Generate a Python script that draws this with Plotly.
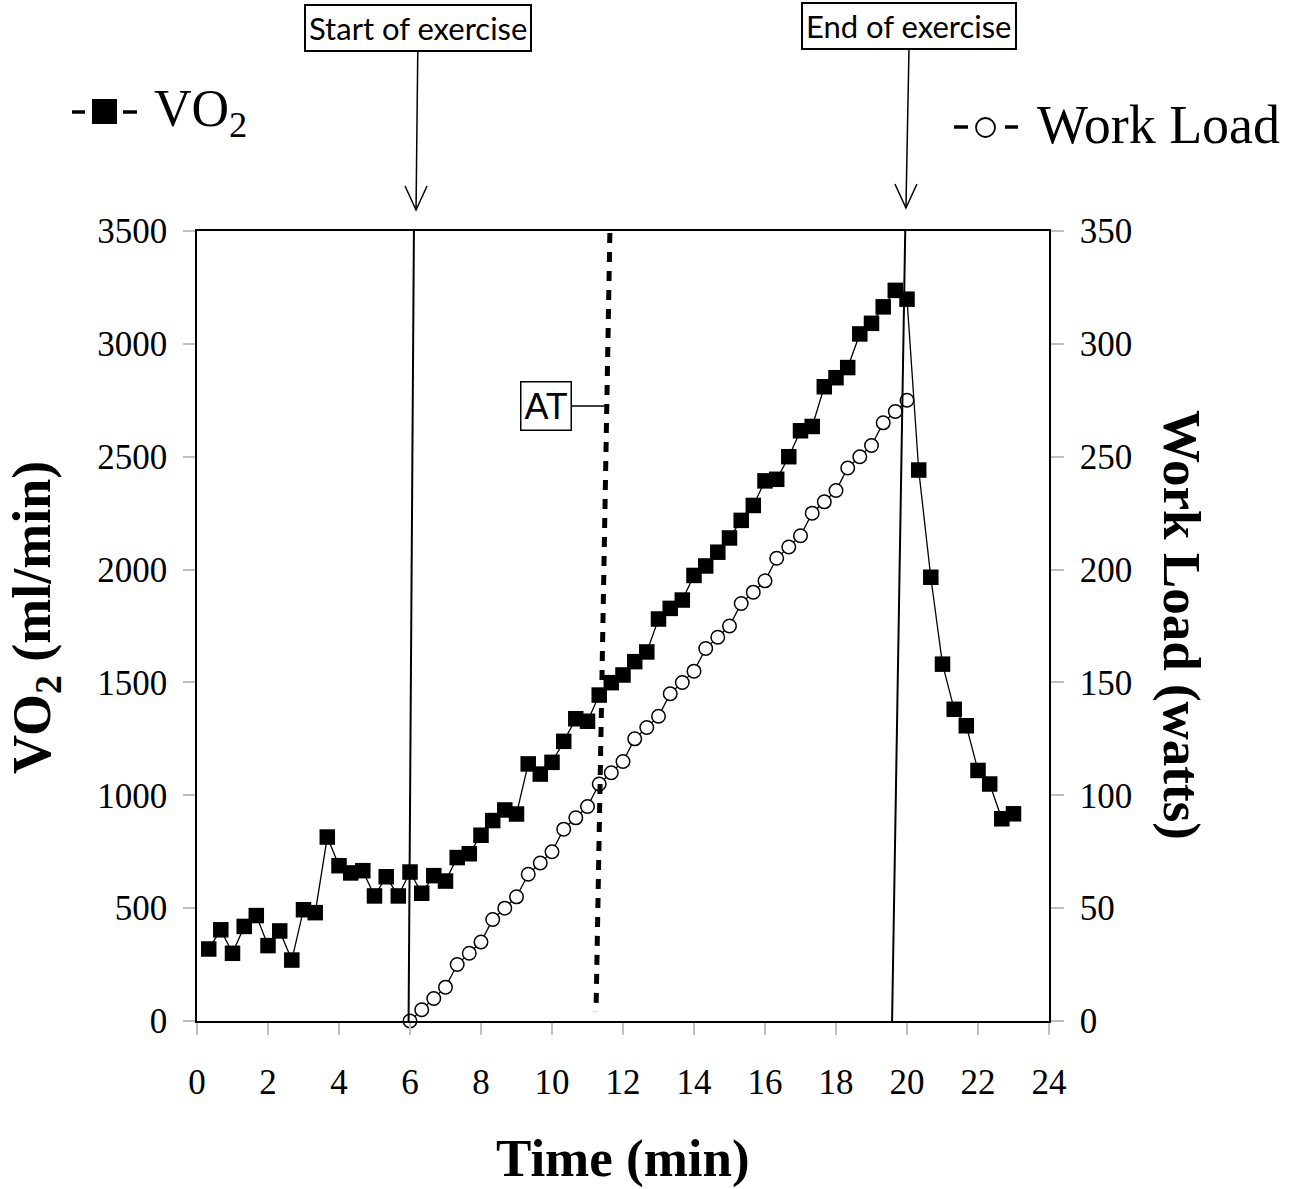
import plotly.graph_objects as go

# ---------------- data ----------------
time_min = [0.33, 0.67, 1.00, 1.33, 1.67, 2.00, 2.33, 2.67, 3.00, 3.33,
            3.67, 4.00, 4.33, 4.67, 5.00, 5.33, 5.67, 6.00, 6.33, 6.67,
            7.00, 7.33, 7.67, 8.00, 8.33, 8.67, 9.00, 9.33, 9.67, 10.00,
            10.33, 10.67, 11.00, 11.33, 11.67, 12.00, 12.33, 12.67, 13.00, 13.33,
            13.67, 14.00, 14.33, 14.67, 15.00, 15.33, 15.67, 16.00, 16.33, 16.67,
            17.00, 17.33, 17.67, 18.00, 18.33, 18.67, 19.00, 19.33, 19.67, 20.00,
            20.33, 20.67, 21.00, 21.33, 21.67, 22.00, 22.33, 22.67, 23.00]

vo2 = [319, 404, 300, 419, 467, 334, 399, 270, 493, 480,
       815, 688, 656, 666, 554, 639, 554, 660, 566, 644,
       620, 724, 741, 823, 888, 935, 917, 1139, 1094, 1146,
       1239, 1339, 1328, 1444, 1499, 1533, 1592, 1635, 1781, 1828,
       1865, 1974, 2016, 2077, 2140, 2218, 2284, 2393, 2400, 2500,
       2615, 2634, 2810, 2850, 2895, 3044, 3091, 3164, 3237, 3198,
       2441, 1966, 1581, 1381, 1308, 1110, 1050, 896, 918]

load_time = [6.00, 6.33, 6.67, 7.00, 7.33, 7.67, 8.00, 8.33, 8.67, 9.00,
             9.33, 9.67, 10.00, 10.33, 10.67, 11.00, 11.33, 11.67, 12.00, 12.33,
             12.67, 13.00, 13.33, 13.67, 14.00, 14.33, 14.67, 15.00, 15.33, 15.67,
             16.00, 16.33, 16.67, 17.00, 17.33, 17.67, 18.00, 18.33, 18.67, 19.00,
             19.33, 19.67, 20.00]

work_load = [0, 5, 10, 15, 25, 30, 35, 45, 50, 55,
             65, 70, 75, 85, 90, 95, 105, 110, 115, 125,
             130, 135, 145, 150, 155, 165, 170, 175, 185, 190,
             195, 205, 210, 215, 225, 230, 235, 245, 250, 255,
             265, 270, 275]

x_ticks = [0, 2, 4, 6, 8, 10, 12, 14, 16, 18, 20, 22, 24]
vo2_ticks = [0, 500, 1000, 1500, 2000, 2500, 3000, 3500]
load_ticks = [0, 50, 100, 150, 200, 250, 300, 350]

# event lines (time at top of plot, time at bottom of plot)
start_line = [6.11, 5.96]
end_line = [19.95, 19.58]
at_line = [11.63, 11.24]
at_line_y = [3491, 40]
start_arrow_time = 6.17
end_arrow_time = 19.97
at_label_time = 11.49
at_label_vo2 = 2725

# ---------------- layout geometry ----------------
W, H = 1306, 1189
L, R, T, B = 197, 1049, 231, 1021


def px(x):
    return (x - L) / (R - L)


def py(y):
    return (B - y) / (B - T)


def t_span(dx):
    return dx * 24 / (R - L)


serif = "Liberation Serif"
GREY = "#bfbfbf"

fig = go.Figure()

fig.add_trace(go.Scatter(
    x=time_min, y=vo2, mode="lines+markers", name="VO2",
    line=dict(color="black", width=1.3),
    marker=dict(symbol="square", size=15.5, color="black"),
    yaxis="y", showlegend=False, cliponaxis=False))

fig.add_trace(go.Scatter(
    x=load_time, y=work_load, mode="lines+markers", name="Work Load",
    line=dict(color="black", width=1.3),
    marker=dict(symbol="circle", size=13.5, color="white",
                line=dict(color="black", width=1.5)),
    yaxis="y2", showlegend=False, cliponaxis=False))

shapes = []
# event lines inside the plot
shapes.append(dict(type="line", xref="x", yref="y", x0=start_line[0], y0=3500,
                   x1=start_line[1], y1=0, line=dict(color="black", width=2)))
shapes.append(dict(type="line", xref="x", yref="y", x0=end_line[0], y0=3500,
                   x1=end_line[1], y1=0, line=dict(color="black", width=2)))
shapes.append(dict(type="line", xref="x", yref="y", x0=at_line[0], y0=at_line_y[0],
                   x1=at_line[1], y1=at_line_y[1],
                   line=dict(color="black", width=5, dash="10px,9px")))


# arrow heads (open V) above the plot
def vhead(tip_t, tip_py):
    dx = t_span(11)
    y_tip = py(tip_py)
    y_arm = py(tip_py - 24)
    return dict(type="path", xref="x", yref="paper",
                path=f"M {tip_t - dx},{y_arm} L {tip_t},{y_tip} L {tip_t + dx},{y_arm}",
                line=dict(color="black", width=1.5))


shapes.append(vhead(start_arrow_time, 210))
shapes.append(vhead(end_arrow_time, 208))

# legend symbols
shapes.append(dict(type="line", xref="paper", yref="paper", x0=px(72), x1=px(85),
                   y0=py(112), y1=py(112), line=dict(color="black", width=3.5)))
shapes.append(dict(type="rect", xref="paper", yref="paper", x0=px(92), x1=px(117),
                   y0=py(124), y1=py(99), fillcolor="black", line=dict(width=0)))
shapes.append(dict(type="line", xref="paper", yref="paper", x0=px(123), x1=px(137),
                   y0=py(112), y1=py(112), line=dict(color="black", width=3.5)))

shapes.append(dict(type="line", xref="paper", yref="paper", x0=px(954), x1=px(968),
                   y0=py(127), y1=py(127), line=dict(color="black", width=3.5)))
shapes.append(dict(type="circle", xref="paper", yref="paper", x0=px(976), x1=px(995),
                   y0=py(137), y1=py(118), line=dict(color="black", width=1.8)))
shapes.append(dict(type="line", xref="paper", yref="paper", x0=px(1005), x1=px(1018),
                   y0=py(127), y1=py(127), line=dict(color="black", width=3.5)))

annotations = []
# event boxes with arrows
annotations.append(dict(
    text="Start of exercise", x=start_arrow_time, y=py(210), xref="x", yref="paper",
    showarrow=True, arrowhead=0, arrowwidth=1.5, arrowcolor="black",
    ax=2, ay=27.5 - 210, bordercolor="black", borderwidth=2, borderpad=3,
    bgcolor="white", font=dict(family="Lato", size=31, color="black")))
annotations.append(dict(
    text="End of exercise", x=end_arrow_time, y=py(208), xref="x", yref="paper",
    showarrow=True, arrowhead=0, arrowwidth=1.5, arrowcolor="black",
    ax=3.5, ay=26 - 208, bordercolor="black", borderwidth=2, borderpad=3,
    bgcolor="white", font=dict(family="Lato", size=31, color="black")))
# AT label
annotations.append(dict(
    text="AT", x=at_label_time, y=at_label_vo2, xref="x", yref="y",
    showarrow=True, arrowhead=0, arrowwidth=1.5, arrowcolor="black",
    ax=-58.5, ay=0, bordercolor="black", borderwidth=1.5, borderpad=3,
    bgcolor="white", font=dict(family="Liberation Sans", size=36, color="black")))
# legend text
annotations.append(dict(
    text="VO<sub>2</sub>", x=px(152), y=py(112), xref="paper", yref="paper",
    xanchor="left", yanchor="middle", showarrow=False,
    font=dict(family=serif, size=52, color="black")))
annotations.append(dict(
    text="Work Load", x=px(1035), y=py(125), xref="paper", yref="paper",
    xanchor="left", yanchor="middle", showarrow=False,
    font=dict(family=serif, size=54, color="black")))
# axis titles
annotations.append(dict(
    text="<b>VO<sub>2</sub> (ml/min)</b>", x=px(35), y=py(618), xref="paper", yref="paper",
    xanchor="center", yanchor="middle", textangle=-90, showarrow=False,
    font=dict(family=serif, size=54, color="black")))
annotations.append(dict(
    text="<b>Work Load (watts)</b>", x=px(1182), y=py(625), xref="paper", yref="paper",
    xanchor="center", yanchor="middle", textangle=90, showarrow=False,
    font=dict(family=serif, size=53, color="black")))
annotations.append(dict(
    text="<b>Time (min)</b>", x=px(623), y=py(1158), xref="paper", yref="paper",
    xanchor="center", yanchor="middle", showarrow=False,
    font=dict(family=serif, size=53, color="black")))

tickfont = dict(family=serif, size=35, color="black")

fig.update_layout(
    width=W, height=H,
    margin=dict(l=L, r=W - R, t=T, b=H - B, pad=0),
    paper_bgcolor="white", plot_bgcolor="white",
    showlegend=False,
    shapes=shapes, annotations=annotations,
    xaxis=dict(range=[0, 24], tickvals=x_ticks, ticks="outside", ticklen=12,
               tickwidth=1.5, tickcolor=GREY, showline=True, linecolor="black",
               linewidth=1.6, mirror=True, showgrid=False, zeroline=False,
               tickfont=tickfont, ticklabelstandoff=17),
    yaxis=dict(range=[0, 3500], tickvals=vo2_ticks, ticks="outside", ticklen=12,
               tickwidth=1.5, tickcolor=GREY, showline=True, linecolor="black",
               linewidth=1.6, mirror=True, showgrid=False, zeroline=False,
               tickfont=tickfont, ticklabelstandoff=9),
    yaxis2=dict(range=[0, 350], tickvals=load_ticks, ticks="outside", ticklen=13,
                tickwidth=1.5, tickcolor=GREY, showline=True, linecolor="black",
                linewidth=1.6, overlaying="y", side="right", showgrid=False,
                zeroline=False, tickfont=tickfont, ticklabelstandoff=9),
    yaxis3=dict(range=[0, 350], tickvals=load_ticks, ticks="inside", ticklen=12,
                tickwidth=1.5, tickcolor=GREY, showline=False, overlaying="y",
                side="right", showgrid=False, zeroline=False, showticklabels=False),
)

fig.write_html("out.html", config={"displayModeBar": False},
               post_script="document.body.style.margin='0';")
